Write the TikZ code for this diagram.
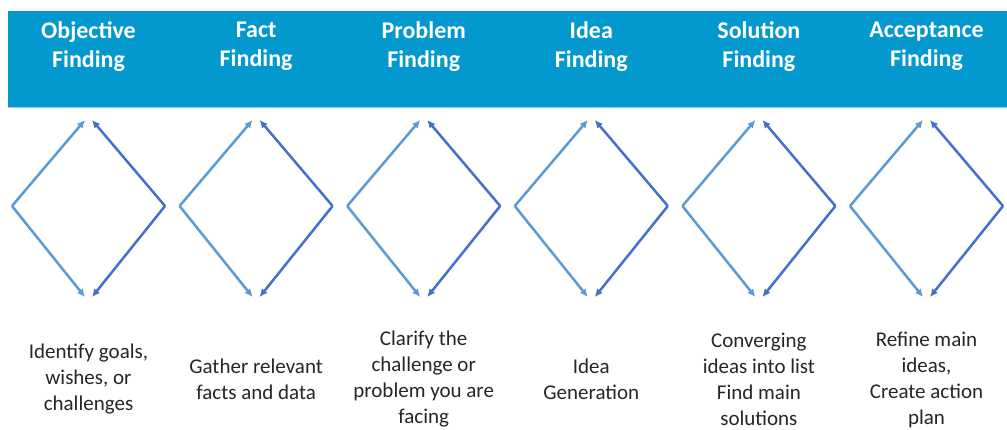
\documentclass[tikz,border=0pt]{standalone}
\usepackage{fontspec}
\setmainfont{Carlito}
\usetikzlibrary{arrows.meta}
\definecolor{band}{HTML}{0399CE}
\definecolor{bandline}{HTML}{8FD3EE}
\definecolor{arrowlight}{HTML}{5B9BD5}
\definecolor{arrowdark}{HTML}{4470CC}
\definecolor{bodytext}{HTML}{262626}
\tikzset{
  headtext/.style={text=white, font=\fontsize{24}{29}\selectfont\bfseries, align=center, inner sep=0pt},
  bodytxt/.style={text=bodytext, font=\fontsize{21}{26}\selectfont, align=center, inner sep=0pt},
  edgelight/.style={draw=arrowlight, line width=2.5pt, -{Latex[length=8pt,width=7.5pt]}},
  edgedark/.style={draw=arrowdark, line width=2.5pt, -{Latex[length=8pt,width=7.5pt]}}
}
\begin{document}
\begin{tikzpicture}[x=1pt,y=-1pt]
\useasboundingbox (0,0) rectangle (1007,429);
\fill[white] (0,0) rectangle (1007,429);
\fill[band] (8,11) rectangle (1007,107);
\draw[bandline, line width=1.2pt] (8,107.5) -- (1007,107.5);
% diamonds
\foreach \i in {1,...,6}{
  \pgfmathsetmacro{\cx}{88.5+167.6*(\i-1)}
  \coordinate (L\i) at (\cx-76.5,206);
  \coordinate (R\i) at (\cx+76.5,206);
  \coordinate (TL\i) at (\cx-3.5,120);
  \coordinate (TR\i) at (\cx+3.5,120);
  \coordinate (BL\i) at (\cx-3.5,297);
  \coordinate (BR\i) at (\cx+3.5,297);
  \draw[edgelight] (L\i) -- (TL\i);
  \draw[edgelight] (L\i) -- (BL\i);
  \draw[edgedark] (R\i) -- (TR\i);
  \draw[edgedark] (R\i) -- (BR\i);
}
% headers
\node[headtext] (h1) at (88.5,46.5) {Objective\\Finding};
\node[headtext] (h2) at (256.1,46.5) {Fact\\Finding};
\node[headtext] (h3) at (423.7,46.5) {Problem\\Finding};
\node[headtext] (h4) at (591.3,46.5) {Idea\\Finding};
\node[headtext] (h5) at (758.9,46.5) {Solution\\Finding};
\node[headtext] (h6) at (926.5,46.5) {Acceptance\\Finding};
% descriptions
\node[bodytxt] (d1) at (88.5,379.5) {Identify goals,\\wishes, or\\challenges};
\node[bodytxt] (d2) at (256.1,379.5) {Gather relevant\\facts and data};
\node[bodytxt] (d3) at (423.7,379.5) {Clarify the\\challenge or\\problem you are\\facing};
\node[bodytxt] (d4) at (591.3,379.5) {Idea\\Generation};
\node[bodytxt] (d5) at (758.9,379.5) {Converging\\ideas into list\\Find main\\solutions};
\node[bodytxt] (d6) at (926.5,379.5) {Refine main\\ideas,\\Create action\\plan};
\end{tikzpicture}
\end{document}
